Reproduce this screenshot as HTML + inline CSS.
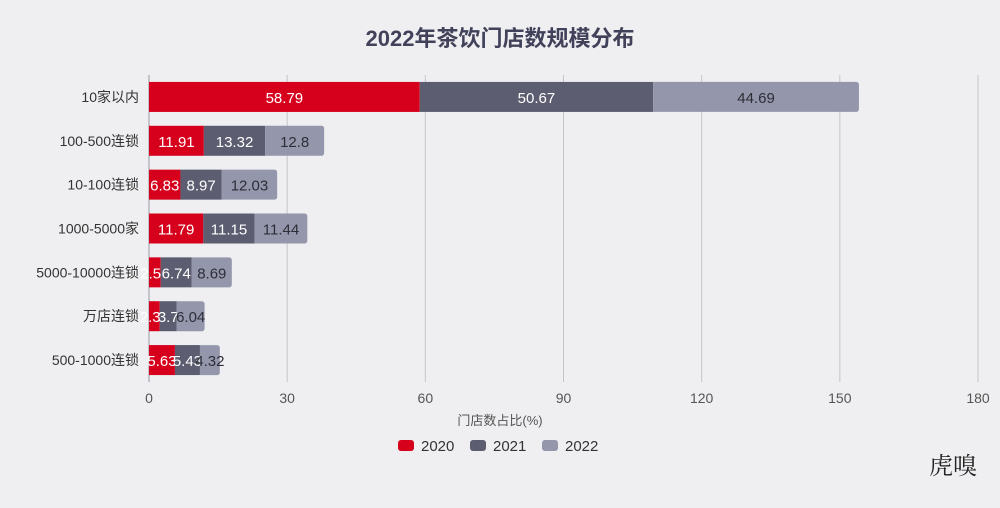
<!DOCTYPE html>
<html><head><meta charset="utf-8"><style>
html,body{margin:0;padding:0;background:#efeff1;}
body{width:1000px;height:508px;overflow:hidden;font-family:"Liberation Sans","Noto Sans CJK SC",sans-serif;}
</style></head><body>
<svg id="chart" width="1000" height="508" xmlns="http://www.w3.org/2000/svg" style="position:absolute;left:0;top:0"></svg>
<script>
const categories=["10家以内","100-500连锁","10-100连锁","1000-5000家","5000-10000连锁","万店连锁","500-1000连锁"];
const seriesNames=["2020","2021","2022"];
const s2020=[58.79,11.91,6.83,11.79,2.55,2.33,5.63];
const s2021=[50.67,13.32,8.97,11.15,6.74,3.7,5.43];
const s2022=[44.69,12.8,12.03,11.44,8.69,6.04,4.32];
const ticks=[0,30,60,90,120,150,180];
const colors=["#d6001c","#5c5d70","#9496ab"];
const textColors=["#ffffff","#ffffff","#2e2e38"];
const svg=document.getElementById('chart');
const NS="http://www.w3.org/2000/svg";
const x0=149,x1=978,xmax=180,plotTop=75,plotBottom=382;
const band=(plotBottom-plotTop)/categories.length;
const xs=v=>x0+v/xmax*(x1-x0);
const yc=i=>plotTop+band*(i+0.5);
function mk(tag,attrs,text){const e=document.createElementNS(NS,tag);for(const k in attrs)e.setAttribute(k,attrs[k]);if(text!==undefined)e.textContent=text;svg.appendChild(e);return e;}
let t=mk('text',{x:500,y:46,'text-anchor':'middle','font-size':22,'font-weight':'bold',fill:'#41425a'},'2022年茶饮门店数规模分布');


ticks.forEach(v=>{
  let l=mk('line',{x1:xs(v),x2:xs(v),y1:plotTop,y2:plotBottom,stroke:v===0?'#9a9aa8':'#c4c4cc','stroke-width':1});
  
  
  let tt=mk('text',{x:xs(v),y:403,'text-anchor':'middle','font-size':14,fill:'#555'},String(v));
  
  
});
let xt=mk('text',{x:500,y:425,'text-anchor':'middle','font-size':13,fill:'#555'},'门店数占比(%)');


const series=[s2020,s2021,s2022];
categories.forEach((c,i)=>{
  let cl=mk('text',{x:139,y:yc(i)+5,'text-anchor':'end','font-size':14,fill:'#333'},c);
  
  
  let acc=0;
  series.forEach((s,j)=>{
    const v=s[i];const xa=xs(acc),xb=xs(acc+v);
    let r;
    if(j===2){
      r=mk('path',{d:`M${xa},${yc(i)-15}H${xb-3}Q${xb},${yc(i)-15} ${xb},${yc(i)-12}V${yc(i)+12}Q${xb},${yc(i)+15} ${xb-3},${yc(i)+15}H${xa}Z`,fill:colors[j]});
    } else {
      r=mk('rect',{x:xa,y:yc(i)-15,width:xb-xa,height:30,fill:colors[j]});
    }
    
    
    let lb=mk('text',{x:(xa+xb)/2,y:yc(i)+6,'text-anchor':'middle','font-size':15,fill:textColors[j]},String(v));
    
    
    acc+=v;
  });
});
const lx=[398,470,542];
seriesNames.forEach((n,j)=>{
  let r=mk('rect',{x:lx[j],y:440,width:16,height:11,rx:3,fill:colors[j]});
  
  
  let tx=mk('text',{x:lx[j]+23,y:451,'font-size':15,fill:'#333'},n);
  
  
});
let wm=mk('text',{x:953,y:474,'text-anchor':'middle','font-size':24,fill:'#222','font-family':'"Noto Serif CJK SC",serif'},'虎嗅');


</script>
</body></html>
